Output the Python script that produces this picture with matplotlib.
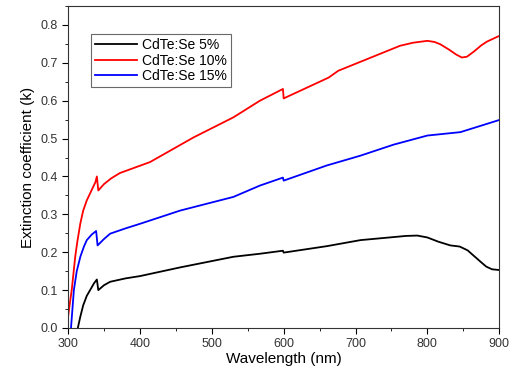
import numpy as np
import matplotlib.pyplot as plt
from matplotlib.ticker import MultipleLocator

plt.rcParams['font.family'] = ['Liberation Sans', 'DejaVu Sans']

# values
wl_5 = [313.5, 317, 321, 326, 330.6, 336, 340, 342, 350, 358.5, 380, 400, 456, 530, 567,
        599, 600, 660, 707, 753, 770, 786, 800, 815, 832, 845, 856, 865, 874, 882, 890, 900]
k_5 = [0.0, 0.03, 0.06, 0.085, 0.10, 0.118, 0.128, 0.10, 0.113, 0.122, 0.131, 0.137, 0.16,
       0.188, 0.196, 0.204, 0.199, 0.216, 0.232, 0.240, 0.243, 0.244, 0.239, 0.228, 0.218,
       0.215, 0.205, 0.19, 0.175, 0.162, 0.155, 0.153]

wl_10 = [300, 302, 305, 310, 313, 317, 321, 326, 333, 338, 340, 342, 350, 360, 372, 414,
         474.5, 530, 567, 599, 600, 662.6, 676, 762, 780, 800, 810, 818, 830, 840, 848,
         855, 865, 875, 883, 900]
k_10 = [0.03, 0.06, 0.10, 0.19, 0.23, 0.276, 0.31, 0.337, 0.365, 0.385, 0.40, 0.363, 0.38,
        0.395, 0.409, 0.438, 0.503, 0.556, 0.60, 0.631, 0.606, 0.661, 0.679, 0.745, 0.753,
        0.758, 0.755, 0.749, 0.735, 0.722, 0.714, 0.716, 0.73, 0.746, 0.756, 0.771]

wl_15 = [304, 306, 308, 312, 317, 322, 326, 333, 339, 341, 350, 358.5, 380, 400, 456, 530,
         567, 599, 600, 660, 707, 753, 800, 846, 900]
k_15 = [0.0, 0.05, 0.10, 0.15, 0.188, 0.215, 0.232, 0.247, 0.256, 0.218, 0.235, 0.249,
        0.263, 0.275, 0.31, 0.346, 0.376, 0.397, 0.389, 0.429, 0.455, 0.484, 0.508, 0.517,
        0.549]

labels = ['CdTe:Se 5%', 'CdTe:Se 10%', 'CdTe:Se 15%']
colors = ['black', 'red', 'blue']

fig = plt.figure(figsize=(5.2, 3.74), dpi=100)
ax = fig.add_axes([0.131, 0.123, 0.829, 0.861])

for wl, k, lab, col in zip([wl_5, wl_10, wl_15], [k_5, k_10, k_15], labels, colors):
    ax.plot(wl, k, color=col, lw=1.3, label=lab)

ax.set_xlim(300, 900)
ax.set_ylim(0, 0.85)
ax.xaxis.set_major_locator(MultipleLocator(100))
ax.xaxis.set_minor_locator(MultipleLocator(50))
ax.yaxis.set_major_locator(MultipleLocator(0.1))
ax.yaxis.set_minor_locator(MultipleLocator(0.05))
ax.yaxis.set_major_formatter(plt.FormatStrFormatter('%.1f'))
ax.tick_params(which='both', direction='out', top=False, right=False,
               labelsize=9, labelcolor='#333333')
ax.tick_params(which='major', length=4)
ax.tick_params(which='minor', length=2.5)
for s in ax.spines.values():
    s.set_color('#333333')

ax.set_xlabel('Wavelength (nm)', fontsize=11, labelpad=1)
ax.set_ylabel('Extinction coefficient (k)', fontsize=11)

leg = ax.legend(loc='upper left', bbox_to_anchor=(0.053, 0.913), borderaxespad=0,
                fontsize=10, fancybox=False, edgecolor='#444444', handlelength=3,
                borderpad=0.3, labelspacing=0.1, handletextpad=0.4)
leg.get_frame().set_linewidth(0.8)

fig.savefig('out.png', dpi=100)
